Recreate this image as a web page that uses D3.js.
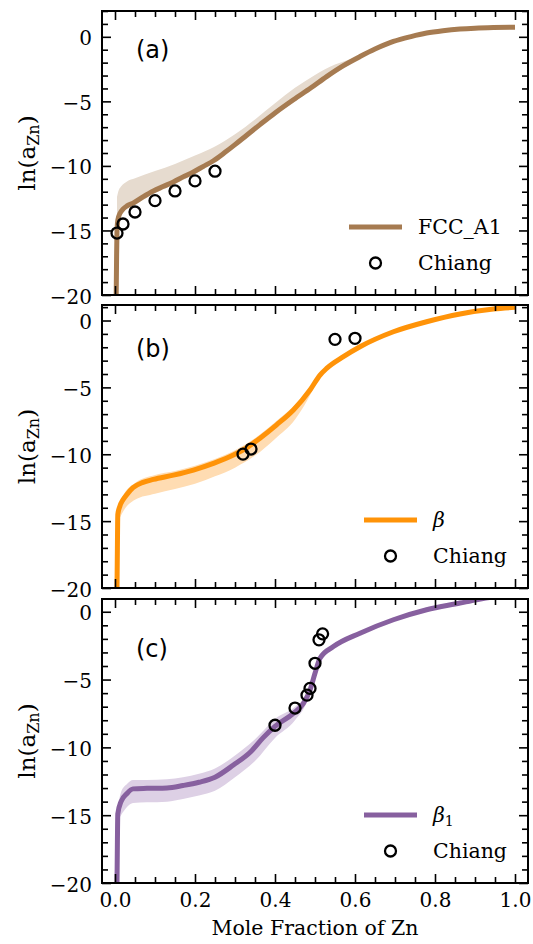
<!DOCTYPE html>
<html><head><meta charset="utf-8">
<script src="https://cdn.jsdelivr.net/npm/d3@7"></script>
<style>html,body{margin:0;padding:0;background:#fff;} svg{display:block}</style>
</head><body><svg id="chart" width="533" height="944"></svg>
<script>
// ---------- data ----------
const xTickValues = [0, 0.2, 0.4, 0.6, 0.8, 1.0];
const yTickValues = [0, -5, -10, -15, -20];
const panelLabels = ["(a)", "(b)", "(c)"];
const legendNames = ["FCC_A1", "β", "β1"];
const dataLegendName = "Chiang";

// (a) FCC_A1
const fccX = [0.003,0.004,0.005,0.007,0.012,0.02,0.03,0.046,0.07,0.096,0.12,0.146,0.17,0.196,0.22,0.246,0.275,0.3,0.33,0.3625,0.4,0.446,0.49,0.529,0.57,0.6125,0.65,0.696,0.74,0.779,0.82,0.8625,0.9,0.946,1.0];
const fccY = [-20,-17,-15,-14.2,-13.7,-13.35,-13.1,-12.87,-12.4,-11.94,-11.6,-11.24,-10.85,-10.47,-10.05,-9.6,-8.95,-8.35,-7.6,-6.8,-5.9,-4.88,-3.95,-3.08,-2.25,-1.53,-0.95,-0.36,0.02,0.29,0.47,0.6,0.67,0.72,0.75];
const fccBandX  = [0.005,0.008,0.015,0.03,0.05,0.1,0.15,0.2,0.25,0.3,0.35,0.4,0.45,0.5,0.55,0.6,0.65];
const fccBandHi = [-12.4,-12.0,-11.6,-11.2,-10.95,-10.4,-9.85,-9.2,-8.5,-7.55,-6.4,-5.15,-3.95,-2.95,-2.15,-1.6,-0.95];
const fccBandLo = [-15.1,-14.3,-13.7,-13.3,-13.0,-12.1,-11.4,-10.6,-9.7,-8.5,-7.25,-6.1,-5.0,-3.9,-2.85,-1.9,-0.95];
const fccChiangX = [0.005,0.02,0.05,0.1,0.15,0.2,0.25];
const fccChiangY = [-15.2,-14.5,-13.57,-12.69,-11.94,-11.16,-10.41];

// (b) beta
const betaX = [0.005,0.006,0.007,0.012,0.02,0.03,0.045,0.07,0.096,0.146,0.196,0.246,0.296,0.33,0.3625,0.404,0.446,0.4875,0.5125,0.529,0.571,0.6125,0.696,0.779,0.8625,0.946,1.0];
const betaY = [-20,-17,-14.5,-13.9,-13.4,-13.0,-12.5,-12.1,-11.88,-11.56,-11.18,-10.68,-10.06,-9.5,-8.8,-7.8,-6.69,-5.2,-4.08,-3.58,-2.7,-1.96,-0.84,-0.09,0.49,0.86,0.99];
const betaBandX  = [0.006,0.01,0.02,0.05,0.1,0.15,0.2,0.25,0.3,0.35,0.4,0.45,0.48,0.51];
const betaBandHi = [-14.3,-13.8,-13.1,-12.15,-11.55,-11.25,-10.85,-10.35,-9.7,-8.8,-7.6,-6.3,-5.3,-4.2];
const betaBandLo = [-15.2,-14.9,-14.3,-13.4,-12.95,-12.6,-12.2,-11.65,-11.0,-10.1,-8.85,-7.4,-6.0,-4.2];
const betaChiangX = [0.32,0.34,0.55,0.60];
const betaChiangY = [-9.99,-9.61,-1.41,-1.33];

// (c) beta1
const beta1X = [0.005,0.006,0.007,0.015,0.03,0.045,0.08,0.13,0.17,0.21,0.25,0.296,0.34,0.37,0.4,0.446,0.471,0.4875,0.5,0.5125,0.546,0.6125,0.696,0.779,0.8625,0.904,0.95,1.0];
const beta1Y = [-20,-17,-14.9,-14.0,-13.4,-13.06,-13.02,-12.99,-12.81,-12.57,-12.2,-11.3,-10.3,-9.3,-8.45,-7.5,-6.76,-5.78,-4.54,-3.43,-2.57,-1.58,-0.59,0.15,0.64,0.89,1.1,1.25];
const beta1BandX  = [0.007,0.015,0.03,0.045,0.08,0.13,0.17,0.21,0.25,0.3,0.35,0.4,0.45,0.48,0.5];
const beta1BandHi = [-14.4,-13.3,-12.7,-12.4,-12.4,-12.35,-12.2,-11.95,-11.55,-10.6,-9.4,-7.9,-7.0,-6.1,-4.54];
const beta1BandLo = [-15.4,-15.0,-14.4,-14.1,-14.05,-14.0,-13.8,-13.55,-13.2,-12.2,-11.0,-9.3,-8.0,-6.6,-4.54];
const beta1ChiangX = [0.40,0.45,0.48,0.4875,0.50,0.51,0.519];
const beta1ChiangY = [-8.37,-7.1,-6.15,-5.65,-3.8,-2.07,-1.63];

// ---------- layout ----------
const svg = d3.select("#chart");
const left = 102, right = 528;
const panels = [
  {top: 11,  bottom: 295, yMax: 2.0,  line: "#a67b51", band: "#e6dbcf",
   x: fccX, y: fccY, bx: fccBandX, hi: fccBandHi, lo: fccBandLo, cx: fccChiangX, cy: fccChiangY,
   labelBase: 58, legX: 349, legY: 227},
  {top: 305, bottom: 588, yMax: 1.16, line: "#ff9308", band: "#ffdcb2",
   x: betaX, y: betaY, bx: betaBandX, hi: betaBandHi, lo: betaBandLo, cx: betaChiangX, cy: betaChiangY,
   labelBase: 357, legX: 364, legY: 520},
  {top: 599, bottom: 883, yMax: 0.94, line: "#87609f", band: "#ddd0e5",
   x: beta1X, y: beta1Y, bx: beta1BandX, hi: beta1BandHi, lo: beta1BandLo, cx: beta1ChiangX, cy: beta1ChiangY,
   labelBase: 657, legX: 364, legY: 815}
];

const x = d3.scaleLinear().domain([-0.0325, 1.0325]).range([left, right]);
const serif = "DejaVu Serif";
const fs = 20;
const xMinor = d3.range(0, 1.0001, 0.05);
const yMinor = d3.range(-20, 2.01, 1);

panels.forEach((p, i) => {
  const y = d3.scaleLinear().domain([-20, p.yMax]).range([p.bottom, p.top]);
  const g = svg.append("g");
  const clipId = "clip" + i;
  svg.append("clipPath").attr("id", clipId).append("rect")
    .attr("x", left).attr("y", p.top).attr("width", right - left).attr("height", p.bottom - p.top);
  const plot = g.append("g").attr("clip-path", `url(#${clipId})`);

  const bandData = p.bx.map((v, k) => ({x: v, hi: p.hi[k], lo: p.lo[k]}));
  plot.append("path").datum(bandData)
    .attr("fill", p.band).attr("stroke", "none")
    .attr("d", d3.area().x(d => x(d.x)).y0(d => y(d.lo)).y1(d => y(d.hi)).curve(d3.curveMonotoneX));

  const lineData = p.x.map((v, k) => ({x: v, y: p.y[k]}));
  plot.append("path").datum(lineData)
    .attr("fill", "none").attr("stroke", p.line).attr("stroke-width", 5)
    .attr("d", d3.line().x(d => x(d.x)).y(d => y(d.y)).curve(d3.curveMonotoneX));

  plot.selectAll("circle.pt").data(p.cx.map((v, k) => ({x: v, y: p.cy[k]}))).enter()
    .append("circle").attr("class", "pt")
    .attr("cx", d => x(d.x)).attr("cy", d => y(d.y)).attr("r", 5.5)
    .attr("fill", "none").attr("stroke", "#000").attr("stroke-width", 2.3);

  // axes (inward ticks on all sides)
  const yMinorVals = yMinor.filter(v => v <= p.yMax && yTickValues.indexOf(v) < 0);
  const xMinorVals = xMinor.filter(v => xTickValues.every(t => Math.abs(t - v) > 1e-6));
  const styleAxis = sel => {
    sel.attr("font-family", serif).attr("font-size", fs);
    sel.select(".domain").remove();
    sel.selectAll("line").attr("stroke", "#000").attr("stroke-width", 1.6);
  };

  g.append("g").attr("transform", `translate(${left},0)`)
    .call(d3.axisLeft(y).tickValues(yTickValues).tickSize(-9).tickPadding(10).tickFormat(d3.format("d")))
    .call(styleAxis)
    .selectAll("text").attr("fill", "#000").attr("dy", "0.4em");
  g.append("g").attr("transform", `translate(${left},0)`)
    .call(d3.axisLeft(y).tickValues(yMinorVals).tickSize(-6).tickFormat(""))
    .call(styleAxis);
  g.append("g").attr("transform", `translate(${right},0)`)
    .call(d3.axisRight(y).tickValues(yTickValues).tickSize(-9).tickFormat(""))
    .call(styleAxis);
  g.append("g").attr("transform", `translate(${right},0)`)
    .call(d3.axisRight(y).tickValues(yMinorVals).tickSize(-6).tickFormat(""))
    .call(styleAxis);

  const bottomAxis = g.append("g").attr("transform", `translate(0,${p.bottom})`)
    .call(d3.axisBottom(x).tickValues(xTickValues).tickSize(-9).tickPadding(10)
      .tickFormat(i === panels.length - 1 ? d3.format(".1f") : ""))
    .call(styleAxis);
  bottomAxis.selectAll("text").attr("fill", "#000");
  g.append("g").attr("transform", `translate(0,${p.bottom})`)
    .call(d3.axisBottom(x).tickValues(xMinorVals).tickSize(-6).tickFormat(""))
    .call(styleAxis);
  g.append("g").attr("transform", `translate(0,${p.top})`)
    .call(d3.axisTop(x).tickValues(xTickValues).tickSize(-9).tickFormat(""))
    .call(styleAxis);
  g.append("g").attr("transform", `translate(0,${p.top})`)
    .call(d3.axisTop(x).tickValues(xMinorVals).tickSize(-6).tickFormat(""))
    .call(styleAxis);

  // frame
  g.append("rect").attr("x", left).attr("y", p.top).attr("width", right - left).attr("height", p.bottom - p.top)
    .attr("fill", "none").attr("stroke", "#000").attr("stroke-width", 2);

  // panel label
  g.append("text").attr("x", 136).attr("y", p.labelBase)
    .attr("font-family", "DejaVu Sans").attr("font-size", 24).attr("fill", "#000")
    .text(panelLabels[i]);

  // y label
  const yl = g.append("text")
    .attr("transform", `translate(35,${(p.top + p.bottom) / 2}) rotate(-90)`)
    .attr("text-anchor", "middle").attr("font-family", serif).attr("font-size", 23).attr("fill", "#000");
  yl.append("tspan").text("ln(a");
  yl.append("tspan").attr("font-size", 16).attr("dy", 4).text("Zn");
  yl.append("tspan").attr("dy", -4).text(")");

  // legend
  const lg = g.append("g");
  lg.append("line").attr("x1", p.legX).attr("x2", p.legX + 53).attr("y1", p.legY).attr("y2", p.legY)
    .attr("stroke", p.line).attr("stroke-width", 5);
  const t1 = lg.append("text").attr("x", p.legX + 69).attr("y", p.legY + 7)
    .attr("font-family", serif).attr("font-size", fs + 0.5).attr("fill", "#000");
  const nm = legendNames[i];
  if (nm === "FCC_A1") t1.text(nm);
  else {
    t1.append("tspan").attr("font-style", "italic").text("β");
    if (nm.length > 1) t1.append("tspan").attr("font-size", 14).attr("dy", 4).text(nm.slice(1));
  }
  lg.append("circle").attr("cx", p.legX + 26.5).attr("cy", p.legY + 36).attr("r", 5.5)
    .attr("fill", "none").attr("stroke", "#000").attr("stroke-width", 2.3);
  lg.append("text").attr("x", p.legX + 69).attr("y", p.legY + 43)
    .attr("font-family", serif).attr("font-size", fs + 0.5).attr("fill", "#000").text(dataLegendName);
});

svg.append("text").attr("x", (left + right) / 2).attr("y", 935).attr("text-anchor", "middle")
  .attr("font-family", serif).attr("font-size", fs + 0.5).attr("fill", "#000").text("Mole Fraction of Zn");
</script></body></html>
